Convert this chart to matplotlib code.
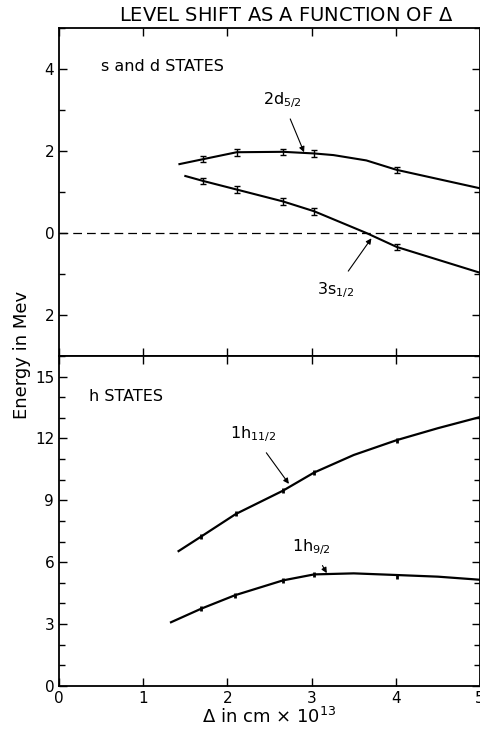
import matplotlib.pyplot as plt
from matplotlib.ticker import MultipleLocator, FixedLocator
import numpy as np

# ---- data ----
# s and d states (top panel)
d52_x = [1.43, 1.71, 2.11, 2.66, 3.03, 3.26, 3.65, 4.01, 5.0]
d52_y = [1.68, 1.80, 1.97, 1.98, 1.94, 1.90, 1.77, 1.54, 1.09]
d52_pts_x = [1.71, 2.11, 2.66, 3.03, 4.01]
d52_pts_y = [1.80, 1.97, 1.98, 1.94, 1.54]

s12_x = [1.50, 1.71, 2.11, 2.66, 3.03, 3.65, 4.01, 5.0]
s12_y = [1.39, 1.27, 1.06, 0.77, 0.53, 0.00, -0.34, -0.97]
s12_pts_x = [1.71, 2.11, 2.66, 3.03, 4.01]
s12_pts_y = [1.27, 1.06, 0.77, 0.53, -0.34]

# h states (bottom panel)
h112_x = [1.42, 1.69, 2.10, 2.66, 3.03, 3.50, 4.01, 4.50, 5.0]
h112_y = [6.54, 7.25, 8.34, 9.47, 10.35, 11.20, 11.92, 12.50, 13.04]
h112_pts_x = [1.69, 2.10, 2.66, 3.03, 4.01]
h112_pts_y = [7.25, 8.34, 9.47, 10.35, 11.92]

h92_x = [1.33, 1.69, 2.09, 2.66, 3.03, 3.50, 4.01, 4.50, 5.0]
h92_y = [3.09, 3.75, 4.40, 5.12, 5.41, 5.46, 5.38, 5.30, 5.15]
h92_pts_x = [1.69, 2.09, 2.66, 3.03, 4.01]
h92_pts_y = [3.75, 4.40, 5.12, 5.41, 5.33]

top_ticklabels = ['4', '2', '0', '2']
top_tickvals = [4, 2, 0, -2]

_fs = 11
fig = plt.figure(figsize=(4.81, 7.31), dpi=100)
ax1 = fig.add_axes([0.1227, 0.513, 0.8753, 0.4487])
ax2 = fig.add_axes([0.1227, 0.0616, 0.8753, 0.4514])

# top panel
ax1.plot(d52_x, d52_y, color='black', lw=1.5)
ax1.errorbar(d52_pts_x, d52_pts_y, yerr=0.08, fmt='none', ecolor='black',
             elinewidth=1.0, capsize=2)
ax1.plot(s12_x, s12_y, color='black', lw=1.5)
ax1.errorbar(s12_pts_x, s12_pts_y, yerr=0.08, fmt='none', ecolor='black',
             elinewidth=1.0, capsize=2)
ax1.axhline(0, color='black', lw=0.9, ls=(0, (7, 4)))

ax1.set_xlim(0, 5)
ax1.set_ylim(-3, 5)
ax1.yaxis.set_major_locator(FixedLocator(top_tickvals))
ax1.set_yticklabels(top_ticklabels)
ax1.yaxis.set_minor_locator(MultipleLocator(1))
ax1.xaxis.set_major_locator(MultipleLocator(1))
ax1.tick_params(axis='x', labelbottom=False)
ax1.text(0.5, 4.05, 's and d STATES', fontsize=11.5, va='center')

ax1.annotate(r'2d$_{\mathregular{5/2}}$', xy=(2.91, 1.97), xytext=(2.42, 3.25),
             fontsize=11.5, va='center',
             arrowprops=dict(arrowstyle='-|>', color='black', lw=0.8,
                             shrinkA=5, shrinkB=0, mutation_scale=8))
ax1.annotate(r'3s$_{\mathregular{1/2}}$', xy=(3.71, -0.13), xytext=(3.06, -1.38),
             fontsize=11.5, va='center',
             arrowprops=dict(arrowstyle='-|>', color='black', lw=0.8,
                             shrinkA=5, shrinkB=0, mutation_scale=8))

# bottom panel
ax2.plot(h112_x, h112_y, color='black', lw=1.6)
ax2.errorbar(h112_pts_x, h112_pts_y, yerr=0.12, fmt='none', ecolor='black',
             elinewidth=2.0, capsize=0)
ax2.plot(h92_x, h92_y, color='black', lw=1.6)
ax2.errorbar(h92_pts_x, h92_pts_y, yerr=0.12, fmt='none', ecolor='black',
             elinewidth=2.0, capsize=0)

ax2.set_xlim(0, 5)
ax2.set_ylim(0, 16)
ax2.yaxis.set_major_locator(MultipleLocator(3))
ax2.yaxis.set_minor_locator(MultipleLocator(1))
ax2.xaxis.set_major_locator(MultipleLocator(1))
ax2.text(0.36, 14.06, 'h STATES', fontsize=11.5, va='center')

ax2.annotate(r'1h$_{\mathregular{11/2}}$', xy=(2.73, 9.8), xytext=(2.03, 12.2),
             fontsize=11.5, va='center',
             arrowprops=dict(arrowstyle='-|>', color='black', lw=0.8,
                             shrinkA=5, shrinkB=0, mutation_scale=8))
ax2.annotate(r'1h$_{\mathregular{9/2}}$', xy=(3.18, 5.47), xytext=(2.77, 6.75),
             fontsize=11.5, va='center',
             arrowprops=dict(arrowstyle='-|>', color='black', lw=0.8,
                             shrinkA=5, shrinkB=0, mutation_scale=8))

for ax in (ax1, ax2):
    for sp in ax.spines.values():
        sp.set_linewidth(1.3)
    ax.tick_params(which='both', direction='in', top=True, right=True,
                   labelsize=_fs, width=1.0)
    ax.tick_params(which='major', length=6)
    ax.tick_params(which='minor', length=4)

ax2.set_xlabel(r'$\Delta$ in cm $\times$ 10$^{\mathregular{13}}$', fontsize=13, labelpad=1)
fig.text(0.045, 0.514, 'Energy in Mev', rotation=90, fontsize=13,
         ha='center', va='center')
fig.text(0.595, 0.979, r'LEVEL SHIFT AS A FUNCTION OF $\Delta$', fontsize=14,
         ha='center', va='center')

fig.savefig('out.png', dpi=100)
